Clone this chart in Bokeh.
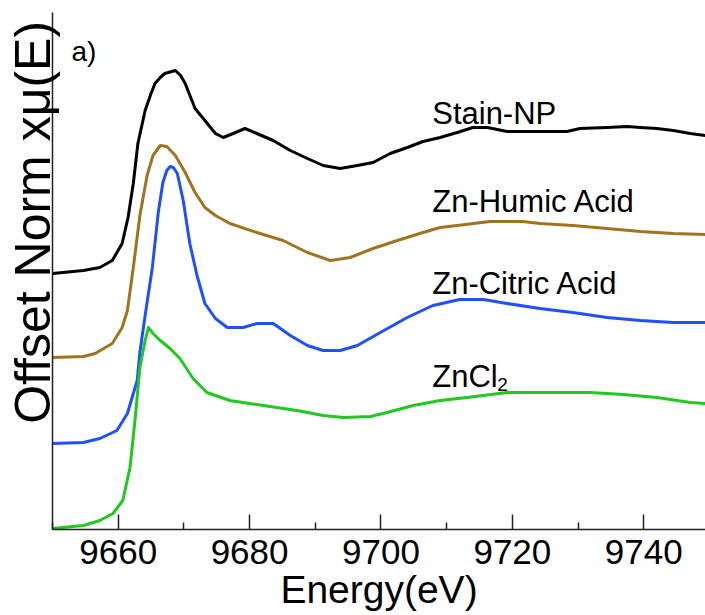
from bokeh.plotting import figure
from bokeh.models import FixedTicker, Range1d
from bokeh.core.properties import value
from bokeh.embed import file_html
from bokeh.resources import INLINE

# ---- data (offset normalised absorbance, arbitrary units) ----
stain_e = [9650.0, 9654.7, 9657.2, 9659.1, 9660.6, 9661.5, 9662.3, 9663.0, 9664.1, 9665.0, 9665.6,
           9666.4, 9667.1, 9668.7, 9669.5, 9670.2, 9671.7, 9673.2, 9674.8, 9676.0, 9677.5, 9679.3, 9681.1,
           9683.6, 9686.2, 9688.8, 9691.2, 9693.8, 9696.4, 9698.8, 9701.4, 9704.0, 9706.4,
           9709.0, 9711.6, 9714.0, 9716.2, 9719.2, 9724.2, 9728.3, 9730.3, 9734.4, 9737.5,
           9739.5, 9742.0, 9744.5, 9747.1, 9749.4]
stain_y = [2.56, 2.59, 2.62, 2.69, 2.86, 3.12, 3.46, 3.86, 4.19, 4.36, 4.46,
           4.52, 4.56, 4.59, 4.54, 4.46, 4.21, 4.09, 3.96, 3.92, 3.96, 4.01, 3.96,
           3.89, 3.79, 3.71, 3.64, 3.61, 3.64, 3.67, 3.76, 3.82, 3.88,
           3.92, 3.97, 4.02, 4.02, 3.98, 3.98, 3.98, 4.01, 4.02, 4.03,
           4.02, 4.01, 3.99, 3.96, 3.94]

humic_e = [9650.0, 9654.7, 9656.5, 9659.1, 9660.6, 9661.4, 9662.3, 9663.3, 9664.4, 9665.3,
           9666.4, 9667.4, 9668.7, 9670.2, 9671.7, 9673.2, 9674.8, 9677.0, 9681.1, 9685.1,
           9688.8, 9692.3, 9695.3, 9698.8, 9702.5, 9706.4, 9709.0, 9711.6, 9716.6, 9721.6,
           9724.2, 9729.2, 9734.4, 9739.5, 9744.5, 9749.4]
humic_y = [1.72, 1.73, 1.76, 1.86, 2.02, 2.19, 2.62, 3.14, 3.54, 3.74,
           3.84, 3.83, 3.74, 3.57, 3.37, 3.22, 3.14, 3.06, 2.97, 2.89,
           2.77, 2.69, 2.72, 2.81, 2.89, 2.97, 3.02, 3.04, 3.08, 3.08,
           3.06, 3.04, 3.01, 2.98, 2.96, 2.95]

citric_e = [9650.0, 9654.7, 9657.2, 9659.8, 9661.4, 9662.3, 9662.9, 9663.3, 9664.1, 9665.2,
            9666.1, 9666.8, 9667.4, 9667.9, 9668.4, 9669.0, 9669.9, 9670.9, 9672.0, 9673.2,
            9674.8, 9676.6, 9679.0, 9681.1, 9683.6, 9686.2, 9688.8, 9691.2, 9693.8, 9696.4,
            9699.9, 9704.0, 9707.9, 9712.0, 9715.6, 9719.2, 9724.2, 9729.2, 9734.4, 9739.5,
            9744.5, 9749.4]
citric_y = [0.86, 0.87, 0.91, 0.99, 1.16, 1.36, 1.49, 1.77, 2.14, 2.62,
            3.17, 3.47, 3.59, 3.63, 3.62, 3.56, 3.29, 2.86, 2.54, 2.26,
            2.11, 2.02, 2.02, 2.06, 2.06, 1.94, 1.84, 1.79, 1.79, 1.84,
            1.97, 2.12, 2.24, 2.30, 2.30, 2.26, 2.21, 2.17, 2.12, 2.09,
            2.07, 2.07]

zncl2_e = [9650.0, 9654.7, 9657.2, 9659.2, 9660.7, 9661.8, 9662.6, 9663.3, 9664.1, 9664.6,
           9665.3, 9666.4, 9667.9, 9669.4, 9671.4, 9673.5, 9677.0, 9682.1, 9687.2, 9691.2,
           9694.3, 9698.4, 9700.9, 9704.9, 9709.0, 9713.1, 9719.2, 9724.2, 9731.8, 9736.9,
           9742.0, 9747.1, 9749.4]
zncl2_y = [0.01, 0.04, 0.09, 0.16, 0.29, 0.62, 1.12, 1.62, 1.89, 2.02,
           1.96, 1.89, 1.81, 1.71, 1.51, 1.37, 1.29, 1.24, 1.19, 1.14,
           1.12, 1.13, 1.17, 1.24, 1.29, 1.32, 1.37, 1.37, 1.37, 1.35,
           1.32, 1.27, 1.26]

x_ticks = [9660, 9680, 9700, 9720, 9740]
x_minor = [9650, 9670, 9690, 9710, 9730, 9750]

FONT = "Liberation Sans"

p = figure(width=705, height=615, output_backend="svg", toolbar_location=None,
           x_range=Range1d(9650, 9749.4), y_range=Range1d(0, 5.17),
           min_border_left=52, min_border_right=0, min_border_top=12, min_border_bottom=86)
p.outline_line_color = None
p.xgrid.visible = False
p.ygrid.visible = False
p.background_fill_color = "white"
p.border_fill_color = "white"

for xs, ys, col in [(stain_e, stain_y, "#000000"), (humic_e, humic_y, "#a0741f"),
                    (citric_e, citric_y, "#1e50ff"), (zncl2_e, zncl2_y, "#20c820")]:
    p.line(xs, ys, line_color=col, line_width=3, line_join="round", line_cap="round")

# x axis
xa = p.xaxis[0]
xa.ticker = FixedTicker(ticks=x_ticks, minor_ticks=x_minor)
xa.major_tick_in = 15
xa.major_tick_out = 0
xa.minor_tick_in = 7
xa.minor_tick_out = 0
xa.axis_line_color = "#222222"
xa.axis_line_width = 1.5
xa.major_tick_line_color = "#222222"
xa.major_tick_line_width = 1.5
xa.minor_tick_line_color = "#222222"
xa.minor_tick_line_width = 1.5
xa.major_label_text_font = FONT
xa.major_label_text_font_size = "35px"
xa.major_label_text_color = "#000000"
xa.major_label_standoff = 10
xa.axis_label = "Energy(eV)"
xa.axis_label_text_font = FONT
xa.axis_label_text_font_size = "39px"
xa.axis_label_text_font_style = "normal"
xa.axis_label_text_color = "#000000"
xa.axis_label_standoff = 1

# y axis (leading no-break spaces shift the visible title upward along the axis)
ya = p.yaxis[0]
ya.ticker = FixedTicker(ticks=[])
ya.major_tick_out = 0
ya.major_tick_in = 0
ya.minor_tick_out = 0
ya.minor_tick_in = 0
ya.major_label_text_font_size = "0px"
ya.axis_line_color = "#222222"
ya.axis_line_width = 1.5
ya.axis_label = "\u00a0" * 7 + "Offset Norm xμ(E)"
ya.axis_label_text_font = FONT
ya.axis_label_text_font_size = "50px"
ya.axis_label_text_font_style = "normal"
ya.axis_label_text_color = "#000000"
ya.axis_label_standoff = -8

# curve labels
lab_x = 9707.8
p.text(x=[lab_x, lab_x, lab_x, lab_x], y=[4.16, 3.28, 2.46, 1.53],
       text=["Stain-NP", "Zn-Humic Acid", "Zn-Citric Acid", "ZnCl"],
       text_font=value(FONT), text_font_size="31px", text_color="#000000",
       text_align="left", text_baseline="alphabetic")
p.text(x=[lab_x], y=[1.53], text=["2"], x_offset=65, y_offset=8,
       text_font=value(FONT), text_font_size="19px", text_color="#000000",
       text_align="left", text_baseline="alphabetic")
p.text(x=[9652.9], y=[4.78], text=["a)"],
       text_font=value(FONT), text_font_size="28px", text_color="#000000",
       text_align="left", text_baseline="alphabetic")

open("out.html", "w").write(file_html(p, INLINE))
